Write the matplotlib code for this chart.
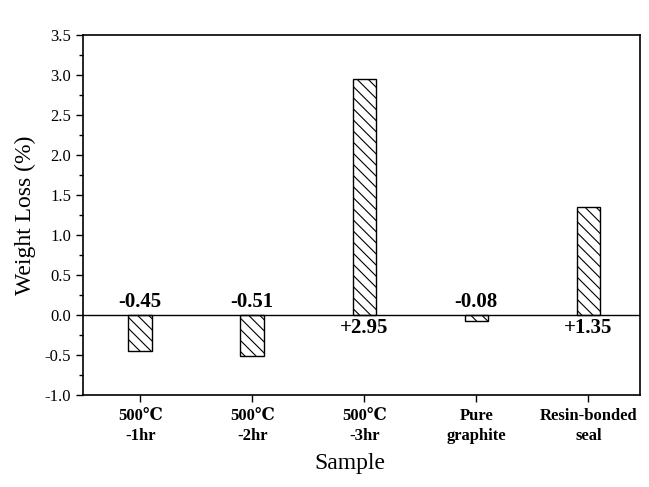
import matplotlib.pyplot as plt
from matplotlib.ticker import MultipleLocator

# data
samples = ['500\u2103\n-1hr', '500\u2103\n-2hr', '500\u2103\n-3hr',
           'Pure\ngraphite', 'Resin-bonded\nseal']
weight_loss = [-0.45, -0.51, 2.95, -0.08, 1.35]
labels = ['-0.45', '-0.51', '+2.95', '-0.08', '+1.35']

plt.rcParams['font.family'] = ['Liberation Serif', 'DejaVu Serif']
plt.rcParams['hatch.linewidth'] = 0.8

fig = plt.figure(figsize=(6.49, 4.87), dpi=100)
ax = fig.add_axes([0.1279, 0.1889, 0.8582, 0.7392])

x = list(range(len(samples)))
ax.bar(x, weight_loss, width=0.21, color='white', edgecolor='black',
       hatch='\\\\\\', linewidth=1.0, zorder=2)
ax.axhline(0, color='black', linewidth=1.0, zorder=3)

# value labels: negatives above the zero line, positives below it
for xi, v, lab in zip(x, weight_loss, labels):
    if v < 0:
        ax.text(xi, 0.04, lab, ha='center', va='bottom', fontsize=15,
                fontweight='bold')
    else:
        ax.text(xi, -0.04, lab, ha='center', va='top', fontsize=15,
                fontweight='bold')

ax.set_xlim(-0.51, 4.46)
ax.set_ylim(-1.0, 3.5)
ax.yaxis.set_minor_locator(MultipleLocator(0.25))
ax.set_yticks([i * 0.5 - 1.0 for i in range(10)])
ax.set_yticklabels([f'{i * 0.5 - 1.0:.1f}' for i in range(10)], fontsize=12)
ax.set_xticks(x)
ax.set_xticklabels(samples, fontsize=12, fontweight='bold', linespacing=1.4)

ax.tick_params(axis='y', which='major', direction='out', length=5, width=1)
ax.tick_params(axis='y', which='minor', direction='out', length=3, width=1)
ax.tick_params(axis='x', direction='out', length=5, width=1, pad=4)
for s in ax.spines.values():
    s.set_linewidth(1.2)

ax.set_ylabel('Weight Loss (%)', fontsize=17, labelpad=6)
ax.set_xlabel('Sample', fontsize=17, labelpad=12)
ax.xaxis.set_label_coords(0.48, -0.16)

fig.savefig('out.png', dpi=100)
